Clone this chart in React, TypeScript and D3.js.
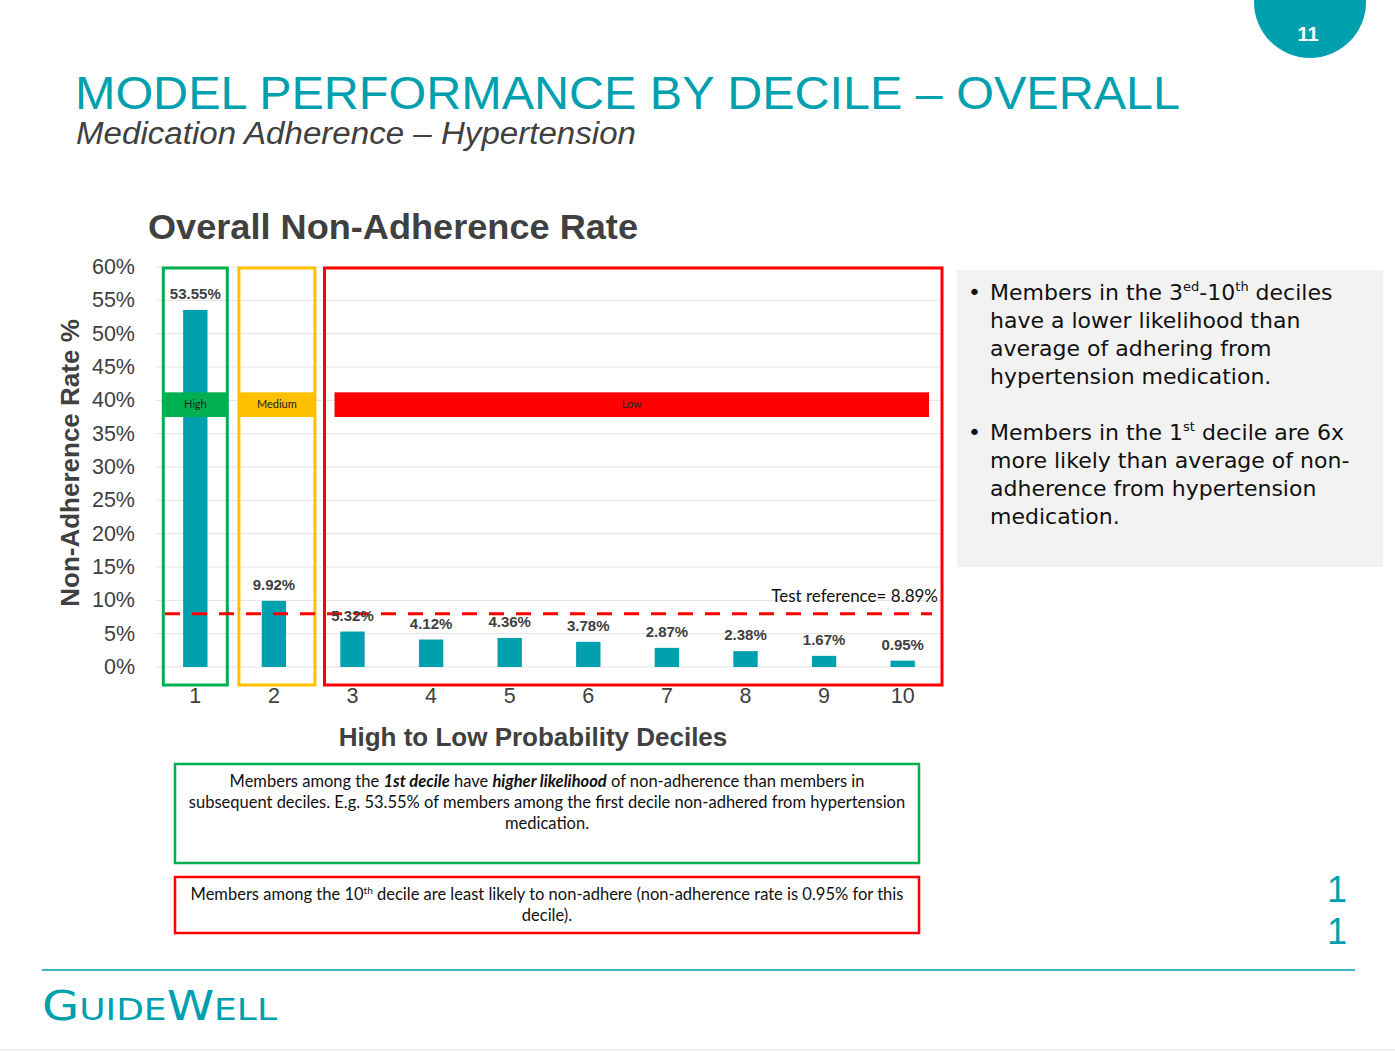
import React from 'react';
import * as d3 from 'd3';

// Chart data
const deciles = ['1', '2', '3', '4', '5', '6', '7', '8', '9', '10'];
const rates = [53.55, 9.92, 5.32, 4.12, 4.36, 3.78, 2.87, 2.38, 1.67, 0.95];
const yTicks = [0, 5, 10, 15, 20, 25, 30, 35, 40, 45, 50, 55, 60];
const referenceLevel = 8; // where the dashed line sits in the picture
const referenceLabel = 'Test reference= 8.89%';
const groups = [
  { label: 'High', from: '1', to: '1', color: '#00B050' },
  { label: 'Medium', from: '2', to: '2', color: '#FFC000' },
  { label: 'Low', from: '3', to: '10', color: '#FF0000' },
];

const W = 1395;
const H = 1052;
const teal = '#00A0AF';
const grey = '#404040';
const plot = { left: 156, right: 942, top: 267, bottom: 667 };

const App: React.FC = () => {
  const x = d3.scaleBand<string>().domain(deciles).range([plot.left, plot.right]).padding(0);
  const y = d3.scaleLinear().domain([0, 60]).range([plot.bottom, plot.top]);
  const step = x.step();
  const barW = step * 0.31;
  const cx = (d: string) => (x(d) ?? 0) + step / 2;

  const boxTop = 268;
  const boxBottom = 685;
  const boxEdges = (g: typeof groups[number], i: number) => {
    if (i === 0) return [cx(g.from) - 32, cx(g.to) + 32];
    if (i === 1) return [cx(g.from) - 35, cx(g.to) + 41];
    return [cx(g.from) - 28, plot.right];
  };

  return (
    <svg width={W} height={H} style={{ position: 'absolute', left: 0, top: 0, background: '#fff' }}
      fontFamily="'Liberation Sans', Arial, sans-serif">
      {/* page number */}
      <circle cx={1310} cy={2} r={56} fill={teal} />
      <text x={1308} y={41} fill="#fff" fontSize={20} fontWeight="bold" textAnchor="middle">11</text>

      {/* slide title */}
      <text x={75} y={109} fill={teal} fontSize={47} textLength={1105} lengthAdjust="spacingAndGlyphs">MODEL PERFORMANCE BY DECILE – OVERALL</text>
      <text x={76} y={144} fill={grey} fontSize={31} fontStyle="italic" textLength={560} lengthAdjust="spacingAndGlyphs">Medication Adherence – Hypertension</text>

      {/* chart title */}
      <text x={148} y={239} fill={grey} fontSize={35} fontWeight="bold" textLength={490} lengthAdjust="spacingAndGlyphs">Overall Non-Adherence Rate</text>

      {/* grid + y ticks */}
      {yTicks.map((t) => (
        <g key={t}>
          <line x1={plot.left} x2={plot.right} y1={y(t)} y2={y(t)} stroke="#E3E3E3" strokeWidth={1} />
          <text x={135} y={y(t) + 7} fill={grey} fontSize={21.5} textAnchor="end">{`${t}%`}</text>
        </g>
      ))}

      {/* bars */}
      {deciles.map((d, i) => (
        <rect key={d} x={cx(d) - barW / 2} y={y(rates[i])} width={barW} height={y(0) - y(rates[i])} fill="#00A0AF" />
      ))}

      {/* group bands */}
      {groups.map((g, i) => {
        const [l, r] = boxEdges(g, i);
        const bandL = i === 2 ? l + 10 : l;
        const bandR = i === 2 ? r - 13 : r;
        return (
          <g key={g.label}>
            <rect x={bandL} y={y(41.2)} width={bandR - bandL} height={y(37.5) - y(41.2)} fill={g.color} />
            <text x={(bandL + bandR) / 2} y={y(39.4) + 4} fontSize={11} fill="#222" textAnchor="middle"
              fontFamily="Lato, sans-serif">{g.label}</text>
            <rect x={l} y={boxTop} width={r - l} height={boxBottom - boxTop} fill="none" stroke={g.color} strokeWidth={3} />
          </g>
        );
      })}

      {/* reference line */}
      <line x1={165} x2={932} y1={y(referenceLevel)} y2={y(referenceLevel)} stroke="#FF0000" strokeWidth={3} strokeDasharray="15,12" />
      <text x={938} y={602} fontSize={17} textAnchor="end" fill="#111" fontFamily="Lato, sans-serif">{referenceLabel}</text>

      {/* value labels */}
      {deciles.map((d, i) => (
        <text key={d} x={cx(d)} y={y(rates[i]) - 11} fill={grey} fontSize={15} fontWeight="bold" textAnchor="middle">
          {`${rates[i].toFixed(2)}%`}
        </text>
      ))}

      {/* x ticks */}
      {deciles.map((d) => (
        <text key={d} x={cx(d)} y={703} fill={grey} fontSize={21.5} textAnchor="middle">{d}</text>
      ))}

      {/* axis titles */}
      <text x={533} y={746} fill={grey} fontSize={26} fontWeight="bold" textAnchor="middle">High to Low Probability Deciles</text>
      <text transform="translate(79,463) rotate(-90)" fill={grey} fontSize={26} fontWeight="bold" textAnchor="middle">Non-Adherence Rate %</text>

      {/* right commentary */}
      <rect x={957} y={270} width={426} height={297} fill="#F2F2F2" />
      <g fontFamily="'DejaVu Sans', sans-serif" fontSize={22} fill="#111">
        <text x={968} y={300}>•</text>
        <text x={990} y={300}>Members in the 3<tspan fontSize={13} dy={-9}>ed</tspan><tspan dy={9}>-10</tspan><tspan fontSize={13} dy={-9}>th</tspan><tspan dy={9}> deciles</tspan></text>
        <text x={990} y={328}>have a lower likelihood than</text>
        <text x={990} y={356}>average of adhering from</text>
        <text x={990} y={384}>hypertension medication.</text>
        <text x={968} y={440}>•</text>
        <text x={990} y={440}>Members in the 1<tspan fontSize={13} dy={-9}>st</tspan><tspan dy={9}> decile are 6x</tspan></text>
        <text x={990} y={468}>more likely than average of non-</text>
        <text x={990} y={496}>adherence from hypertension</text>
        <text x={990} y={524}>medication.</text>
      </g>

      {/* bottom notes */}
      <g fontFamily="Lato, sans-serif" fontSize={16.5} fill="#111" textAnchor="middle">
        <rect x={175} y={764} width={744} height={99} fill="none" stroke="#00B050" strokeWidth={2.5} />
        <text x={547} y={787}>Members among the <tspan fontWeight="bold" fontStyle="italic">1st decile</tspan> have <tspan fontWeight="bold" fontStyle="italic">higher likelihood</tspan> of non-adherence than members in</text>
        <text x={547} y={808}>subsequent deciles. E.g. 53.55% of members among the first decile non-adhered from hypertension</text>
        <text x={547} y={829}>medication.</text>
        <rect x={175} y={877} width={744} height={56} fill="none" stroke="#FF0000" strokeWidth={2.5} />
        <text x={547} y={900}>Members among the 10<tspan fontSize={10} dy={-6}>th</tspan><tspan dy={6}> decile are least likely to non-adhere (non-adherence rate is 0.95% for this</tspan></text>
        <text x={547} y={921}>decile).</text>
      </g>

      {/* side page number */}
      <text x={1337} y={902} fill={teal} fontSize={36} textAnchor="middle">1</text>
      <text x={1337} y={944} fill={teal} fontSize={36} textAnchor="middle">1</text>

      {/* footer */}
      <line x1={42} x2={1355} y1={970} y2={970} stroke={teal} strokeWidth={1.5} />
      <text x={42} y={1020} fill={teal} fontFamily="'DejaVu Sans', sans-serif" textLength={235} lengthAdjust="spacingAndGlyphs">
        <tspan fontSize={40}>G</tspan><tspan fontSize={30}>UIDE</tspan><tspan fontSize={40}>W</tspan><tspan fontSize={30}>ELL</tspan>
      </text>
      <line x1={0} x2={W} y1={1050} y2={1050} stroke="#DDD" strokeWidth={1} />
    </svg>
  );
};

export default App;
